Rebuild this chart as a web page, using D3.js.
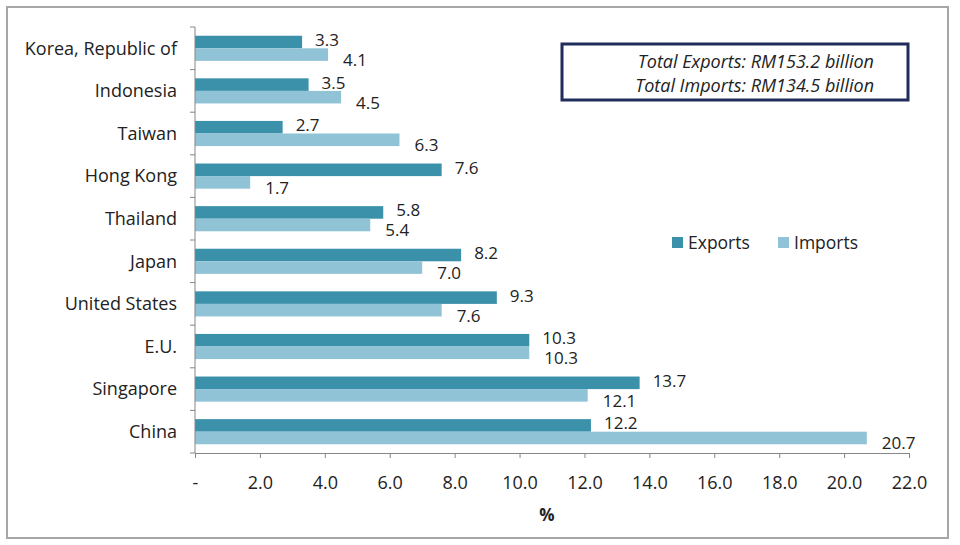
<!DOCTYPE html>
<html>
<head>
<meta charset="utf-8">
<script src="https://cdn.jsdelivr.net/npm/d3@7"></script>
<style>
  body { margin: 0; background: #fff; }
  text { font-family: "Open Sans", sans-serif; fill: #222; }
</style>
</head>
<body>
<svg class="chart"></svg>
<script>
// data, top to bottom
var countries = ["Korea, Republic of", "Indonesia", "Taiwan", "Hong Kong", "Thailand",
                 "Japan", "United States", "E.U.", "Singapore", "China"];
var exportsPct = [3.3, 3.5, 2.7, 7.6, 5.8, 8.2, 9.3, 10.3, 13.7, 12.2];
var importsPct = [4.1, 4.5, 6.3, 1.7, 5.4, 7.0, 7.6, 10.3, 12.1, 20.7];
var xTicks = [0, 2, 4, 6, 8, 10, 12, 14, 16, 18, 20, 22];
var totals = ["Total Exports: RM153.2 billion", "Total Imports: RM134.5 billion"];

var width = 960, height = 545;
var plotLeft = 195, plotRight = 909, plotTop = 27, plotBottom = 453;
var expColor = "#3b91aa", impColor = "#90c3d6";

var svg = d3.select(".chart")
    .attr("width", width)
    .attr("height", height);

// outer frame
svg.append("rect")
    .attr("x", 7).attr("y", 7)
    .attr("width", 941).attr("height", 531)
    .attr("fill", "none")
    .attr("stroke", "#a6a6a6")
    .attr("stroke-width", 2);

var x = d3.scaleLinear().domain([0, 22]).range([plotLeft, plotRight]);
var y = d3.scaleBand().domain(countries).range([plotTop, plotBottom])
    .paddingInner(0.41).paddingOuter(0.205);

var rows = countries.map(function (c, i) {
    return { name: c, exp: exportsPct[i], imp: importsPct[i] };
});

var bh = y.bandwidth() / 2;

var g = svg.selectAll(".row")
    .data(rows)
    .enter().append("g")
    .attr("class", "row")
    .attr("transform", function (d) { return "translate(0," + y(d.name) + ")"; });

g.append("rect")
    .attr("x", x(0))
    .attr("y", 0)
    .attr("width", function (d) { return x(d.exp) - x(0); })
    .attr("height", bh)
    .attr("fill", expColor);

g.append("rect")
    .attr("x", x(0))
    .attr("y", bh)
    .attr("width", function (d) { return x(d.imp) - x(0); })
    .attr("height", bh)
    .attr("fill", impColor);

// value labels (Excel nudged them a little off the bars)
g.append("text")
    .attr("x", function (d) { return x(d.exp) + 13; })
    .attr("y", bh / 2 - 2)
    .attr("dy", "0.35em")
    .style("font-size", "17px")
    .text(function (d) { return d.exp.toFixed(1); });

g.append("text")
    .attr("x", function (d) { return x(d.imp) + 15; })
    .attr("y", bh * 1.5 + 5.5)
    .attr("dy", "0.35em")
    .style("font-size", "17px")
    .text(function (d) { return d.imp.toFixed(1); });

// y axis: ticks between categories
var yAxis = svg.append("g").attr("class", "yaxis");
yAxis.append("line")
    .attr("x1", plotLeft).attr("x2", plotLeft)
    .attr("y1", plotTop).attr("y2", plotBottom)
    .attr("stroke", "#868686");
var step = y.step();
yAxis.selectAll(".yt")
    .data(d3.range(countries.length + 1))
    .enter().append("line")
    .attr("x1", plotLeft - 5).attr("x2", plotLeft)
    .attr("y1", function (i) { return plotTop + i * step; })
    .attr("y2", function (i) { return plotTop + i * step; })
    .attr("stroke", "#868686");
yAxis.selectAll(".ylab")
    .data(countries)
    .enter().append("text")
    .attr("x", 177)
    .attr("y", function (d) { return y(d) + y.bandwidth() / 2; })
    .attr("dy", "0.35em")
    .attr("text-anchor", "end")
    .style("font-size", "18px")
    .text(function (d) { return d; });

// x axis
var xAxis = svg.append("g")
    .attr("transform", "translate(0," + plotBottom + ")")
    .call(d3.axisBottom(x).tickValues(xTicks).tickSize(5).tickPadding(18)
        .tickFormat(function (d) { return d === 0 ? "-" : d.toFixed(1); }));
xAxis.select(".domain").attr("stroke", "#868686");
xAxis.selectAll(".tick line").attr("stroke", "#868686");
xAxis.selectAll(".tick text")
    .style("font-size", "18px")
    .style("font-family", "'Open Sans', sans-serif")
    .attr("fill", "#222");

svg.append("text")
    .attr("x", 547).attr("y", 515)
    .attr("dy", "0.35em")
    .attr("text-anchor", "middle")
    .style("font-size", "17px")
    .style("font-weight", "bold")
    .text("%");

// legend
var legend = svg.selectAll(".legend")
    .data([["Exports", expColor, 672], ["Imports", impColor, 778]])
    .enter().append("g")
    .attr("class", "legend")
    .attr("transform", function (d) { return "translate(" + d[2] + ",237)"; });
legend.append("rect")
    .attr("width", 11).attr("height", 11)
    .attr("fill", function (d) { return d[1]; });
legend.append("text")
    .attr("x", 16).attr("y", 6)
    .attr("dy", "0.35em")
    .style("font-size", "17.5px")
    .text(function (d) { return d[0]; });

// totals box
svg.append("rect")
    .attr("x", 562).attr("y", 44)
    .attr("width", 346).attr("height", 56)
    .attr("fill", "#fff")
    .attr("stroke", "#1f2d5c")
    .attr("stroke-width", 3);
svg.selectAll(".total")
    .data(totals)
    .enter().append("text")
    .attr("x", 874)
    .attr("y", function (d, i) { return 62 + i * 24; })
    .attr("dy", "0.35em")
    .attr("text-anchor", "end")
    .style("font-size", "18px")
    .style("font-style", "italic")
    .text(function (d) { return d; });
</script>
</body>
</html>
